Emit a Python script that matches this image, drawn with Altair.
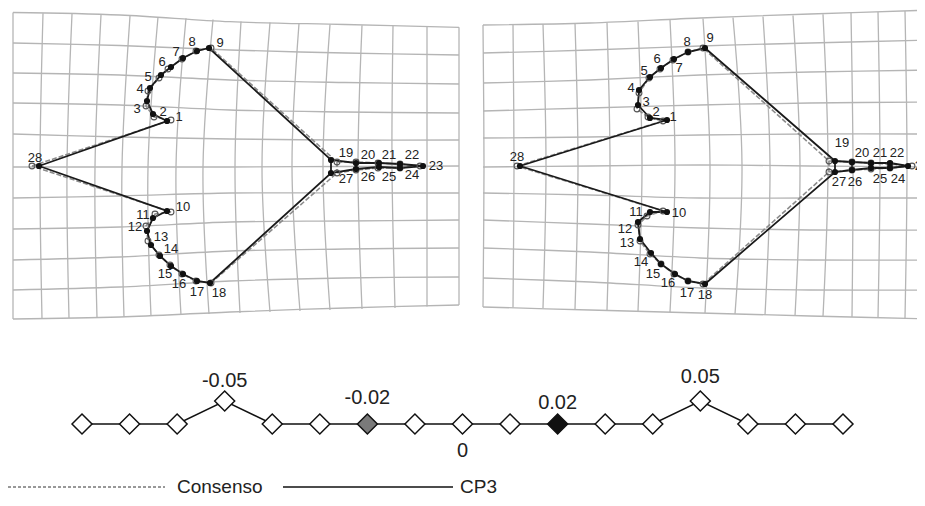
import altair as alt
import pandas as pd

# ---------------- deformation grids ----------------
# Left panel: horizontal lines sampled at these x positions
L_H_X = [13, 120, 230, 345, 459]
L_H_Y = [
    [12.5, 15, 21.7, 24.5, 27.3],
    [43, 45.5, 50, 53, 55],
    [73, 75, 80, 82.5, 84],
    [103, 105, 110, 112, 113],
    [134, 137, 139, 140, 140],
    [167, 167, 167, 166.5, 166],
    [198, 196, 193, 193, 193],
    [229, 227, 222, 221, 220],
    [260, 257, 251, 249, 248],
    [290, 287, 281, 278, 277],
    [319, 317, 312, 308, 305],
]
L_V_XTOP = [13, 43, 72, 101, 130, 158, 186, 213, 241, 270, 299, 330, 362, 393, 427, 459]
L_V_XMID = [13, 40, 67, 95, 122, 148, 176, 203, 235, 262, 292, 323, 358, 392, 427, 459]
L_V_XBOT = [13, 42, 69, 97, 124, 151, 181, 209, 240, 270, 300, 330, 362, 395, 427, 459]
L_V_YTOP = [12.5, 13.2, 14, 15, 16, 17, 18.3, 19.5, 21.5, 22.5, 23.5, 24.5, 25.3, 26, 26.7, 27.3]
L_V_YBOT = [319, 318.5, 318, 317.5, 317, 316, 315, 314, 313, 312, 311, 310, 309, 308, 306.5, 305]

# Right panel
R_H_X = [483, 590, 700, 810, 932]
R_H_Y = [
    [25, 23, 18, 14, 10],
    [53, 50, 46, 43, 40],
    [83, 80, 75, 72, 70],
    [111, 108, 105, 103, 102],
    [138, 137, 135, 134, 134],
    [167, 166, 165, 166, 167],
    [193, 195, 198, 198, 198],
    [220, 224, 228, 230, 230],
    [248, 252, 258, 260, 260],
    [278, 282, 288, 290, 290],
    [307, 310, 313, 316, 319],
]
R_V_XTOP = [483, 513, 543, 575, 607, 638, 670, 703, 733, 763, 793, 823, 851, 878, 905, 932]
R_V_XMID = [484, 514, 546, 578, 610, 642, 675, 710, 742, 770, 800, 828, 853, 880, 907, 933]
R_V_XBOT = [483, 513, 543, 575, 607, 638, 670, 705, 735, 765, 795, 823, 852, 878, 905, 932]
R_V_YTOP = [25, 24.5, 24, 23.3, 22.5, 21.5, 20, 18.5, 17.5, 16.5, 15.5, 14.3, 13, 12, 11, 10]
R_V_YBOT = [307, 307.5, 308, 309, 310, 311, 312, 313, 314, 315, 316, 316.5, 317, 317.5, 318, 319]

# ---------------- landmarks 1..28 ----------------
LM_IDS = list(range(1, 29))
L_CONS_X = [171, 154, 146, 148, 159, 168, 182, 196, 211, 171, 155, 146, 148, 159, 170, 182, 196, 211,
            337, 356, 378, 400, 420, 400, 378, 356, 337, 32]
L_CONS_Y = [120, 117, 106, 91, 78, 69, 59, 51, 48, 212, 214, 226, 241, 255, 265, 274, 281, 283,
            162, 162, 163, 164, 166, 168, 168, 170, 173, 166]
L_CP3_X = [167, 153, 147, 150, 161, 171, 183, 197, 209, 167, 153, 147, 151, 160, 171, 183, 197, 210,
           331, 356, 379, 400, 423, 400, 379, 356, 331, 39]
L_CP3_Y = [121, 114, 101, 88, 75, 67, 58, 51, 48, 211, 218, 231, 245, 256, 266, 274, 281, 283,
           160, 163, 163, 164, 166, 168, 167, 169, 173, 166]
R_CONS_X = [663, 648, 637, 639, 649, 660, 673, 688, 703, 663, 647, 638, 640, 650, 661, 674, 688, 703,
            829, 852, 871, 890, 912, 890, 871, 852, 829, 517]
R_CONS_Y = [121, 117, 109, 93, 78, 69, 60, 52, 48, 211, 216, 225, 241, 254, 264, 274, 281, 284,
            161, 162, 163, 164, 166, 168, 169, 170, 172, 166]
R_CP3_X = [667, 650, 638, 639, 650, 661, 674, 688, 705, 667, 650, 638, 640, 651, 661, 675, 688, 705,
           835, 852, 871, 890, 908, 890, 871, 852, 835, 520]
R_CP3_Y = [120, 118, 105, 90, 77, 68, 59, 52, 48, 212, 212, 222, 239, 253, 264, 274, 281, 284,
           161, 162, 163, 163, 166, 168, 168, 170, 172, 166]

OUTLINE = [28, 1, 2, 3, 4, 5, 6, 7, 8, 9, 19, 20, 21, 22, 23, 24, 25, 26, 27,
           18, 17, 16, 15, 14, 13, 12, 11, 10, 28]
EXTRA_LINKS = [(19, 27), (20, 26)]

# ---------------- shape-axis scale bar ----------------
SCALE_STEPS = [-0.08, -0.07, -0.06, -0.05, -0.04, -0.03, -0.02, -0.01, 0.0,
               0.01, 0.02, 0.03, 0.04, 0.05, 0.06, 0.07, 0.08]
SCALE_RAISED = [0, 0, 0, 1, 0, 0, 0, 0, 0, 0, 0, 0, 0, 1, 0, 0, 0]
SCALE_FILL = ["white"] * 6 + ["#7a7a7a"] + ["white"] * 3 + ["#111111"] + ["white"] * 6
SCALE_LABEL_AT = [-0.05, -0.02, 0.0, 0.02, 0.05]
SCALE_LABELS = ["-0.05", "-0.02", "0", "0.02", "0.05"]

LEGEND_LABELS = ["Consenso", "CP3"]

# ---------------- layout (positions / styles) ----------------
L_LAB_DX = [12, 10, -10, -10, -13, -9, -7, -5, 11, 16, -10, -12, 10, 11, -6, -4, 0, 9, 15, 12, 10, 12, 13, 12, 10, 12, 15, -4]
L_LAB_DY = [-4, -2, 8, 1, 2, -5, -6, -9, -5, -4, -3, -4, -8, -7, 8, 10, 11, 10, -7, -8, -8, -9, 0, 7, 10, 8, 6, -8]
R_LAB_DX = [6, 6, 8, -8, -6, -4, 5, -1, 5, 12, -14, -13, -13, -10, -8, -7, -1, 0, 7, 10, 9, 7, 14, 8, 9, 3, 4, -3]
R_LAB_DY = [-3, -6, -3, -2, -6, -9, 9, -10, -10, 1, 0, 7, 4, 9, 10, 9, 12, 11, -18, -9, -10, -10, 0, 11, 11, 12, 10, -9]
BAR_Y = 424
BAR_RAISE = 23
BAR_RANGE = [74, 835]
VAL_LABEL_DY = [-20, -26, 27, -21, -24]
LEG_Y = 487
FONT = "Liberation Sans"

# ---------------- build tables ----------------
grid_rows = []
for p, hx, hy, vxt, vxm, vxb, vyt, vyb in [
    ("L", L_H_X, L_H_Y, L_V_XTOP, L_V_XMID, L_V_XBOT, L_V_YTOP, L_V_YBOT),
    ("R", R_H_X, R_H_Y, R_V_XTOP, R_V_XMID, R_V_XBOT, R_V_YTOP, R_V_YBOT),
]:
    for i, row in enumerate(hy):
        for j, (x, y) in enumerate(zip(hx, row)):
            grid_rows.append({"line": f"{p}h{i}", "ord": j, "x": x, "y": y})
    ymid = hy[5][2]
    for k in range(len(vxt)):
        for j, (x, y) in enumerate([(vxt[k], vyt[k]), (vxm[k], ymid), (vxb[k], vyb[k])]):
            grid_rows.append({"line": f"{p}v{k}", "ord": j, "x": x, "y": y})
grid_df = pd.DataFrame(grid_rows)

pts_rows, path_rows, lab_rows = [], [], []
for p, cx, cy, tx, ty, dx, dy in [
    ("L", L_CONS_X, L_CONS_Y, L_CP3_X, L_CP3_Y, L_LAB_DX, L_LAB_DY),
    ("R", R_CONS_X, R_CONS_Y, R_CP3_X, R_CP3_Y, R_LAB_DX, R_LAB_DY),
]:
    for kind, xs, ys in [("cons", cx, cy), ("cp3", tx, ty)]:
        pos = {lm: (xs[i], ys[i]) for i, lm in enumerate(LM_IDS)}
        for i, lm in enumerate(LM_IDS):
            pts_rows.append({"panel": p, "kind": kind, "lm": lm, "x": xs[i], "y": ys[i]})
        for j, lm in enumerate(OUTLINE):
            path_rows.append({"seg": f"{p}{kind}main", "kind": kind, "ord": j,
                              "x": pos[lm][0], "y": pos[lm][1]})
        for a, b in EXTRA_LINKS:
            for j, lm in enumerate((a, b)):
                path_rows.append({"seg": f"{p}{kind}{a}-{b}", "kind": kind, "ord": j,
                                  "x": pos[lm][0], "y": pos[lm][1]})
    for i, lm in enumerate(LM_IDS):
        lab_rows.append({"t": str(lm), "x": tx[i] + dx[i], "y": ty[i] + dy[i]})
pts_df = pd.DataFrame(pts_rows)
path_df = pd.DataFrame(path_rows)
lab_df = pd.DataFrame(lab_rows)

bar_df = pd.DataFrame({
    "v": SCALE_STEPS,
    "y": [BAR_Y - BAR_RAISE * r for r in SCALE_RAISED],
    "fill": SCALE_FILL,
})
val_df = pd.DataFrame({
    "v": SCALE_LABEL_AT,
    "t": SCALE_LABELS,
    "y": [BAR_Y - BAR_RAISE * SCALE_RAISED[SCALE_STEPS.index(v)] + d
          for v, d in zip(SCALE_LABEL_AT, VAL_LABEL_DY)],
})
leg_lines = pd.DataFrame({"x": [8, 283], "x2": [165, 453], "y": [LEG_Y, LEG_Y],
                          "kind": ["cons", "cp3"]})
leg_text = pd.DataFrame({"x": [177, 460], "y": [LEG_Y, LEG_Y], "t": LEGEND_LABELS})

# ---------------- scales ----------------
PX = alt.Scale(domain=[8, 917], nice=False, zero=False)
PY = alt.Scale(domain=[8, 498], nice=False, zero=False, reverse=True)
VX = alt.Scale(domain=[-0.08, 0.08], range=BAR_RANGE, nice=False, zero=False)


def X():
    return alt.X("x:Q", scale=PX, axis=None)


def Y():
    return alt.Y("y:Q", scale=PY, axis=None)


grid = alt.Chart(grid_df).mark_line(
    color="#b5b5b5", strokeWidth=1.3, interpolate="catmull-rom"
).encode(x=X(), y=Y(), detail="line:N", order="ord:Q")

cons_line = alt.Chart(path_df[path_df.kind == "cons"]).mark_line(
    color="#8c8c8c", strokeWidth=1.6, strokeDash=[5, 2]
).encode(x=X(), y=Y(), detail="seg:N", order="ord:Q")

cp3_line = alt.Chart(path_df[path_df.kind == "cp3"]).mark_line(
    color="#1a1a1a", strokeWidth=1.8
).encode(x=X(), y=Y(), detail="seg:N", order="ord:Q")

cons_pts = alt.Chart(pts_df[pts_df.kind == "cons"]).mark_point(
    shape="circle", filled=False, size=34, stroke="#555555", strokeWidth=1.1, opacity=1
).encode(x=X(), y=Y())

cp3_pts = alt.Chart(pts_df[pts_df.kind == "cp3"]).mark_circle(
    size=38, color="#111111", opacity=1
).encode(x=X(), y=Y())

labels = alt.Chart(lab_df).mark_text(
    font=FONT, fontSize=13, color="#222222", align="center", baseline="middle"
).encode(x=X(), y=Y(), text="t:N")

bar_line = alt.Chart(bar_df).mark_line(color="#111111", strokeWidth=1.5).encode(
    x=alt.X("v:Q", scale=VX, axis=None), y=Y(), order="v:Q")

bar_pts = alt.Chart(bar_df).mark_point(
    shape="diamond", filled=True, size=400, stroke="#111111", strokeWidth=1.5, opacity=1
).encode(x=alt.X("v:Q", scale=VX, axis=None), y=Y(),
         fill=alt.Fill("fill:N", scale=None))

val_text = alt.Chart(val_df).mark_text(
    font=FONT, fontSize=20, color="#222222", align="center", baseline="middle"
).encode(x=alt.X("v:Q", scale=VX, axis=None), y=Y(), text="t:N")

leg_cons = alt.Chart(leg_lines[leg_lines.kind == "cons"]).mark_rule(
    color="#333333", strokeWidth=1, strokeDash=[3, 2]
).encode(x=X(), x2="x2:Q", y=Y())
leg_cp3 = alt.Chart(leg_lines[leg_lines.kind == "cp3"]).mark_rule(
    color="#111111", strokeWidth=1.3
).encode(x=X(), x2="x2:Q", y=Y())
leg_txt = alt.Chart(leg_text).mark_text(
    font=FONT, fontSize=19, color="#222222", align="left", baseline="middle"
).encode(x=X(), y=Y(), text="t:N")

chart = alt.layer(
    grid, cons_line, cp3_line, cons_pts, cp3_pts, labels,
    bar_line, bar_pts, val_text, leg_cons, leg_cp3, leg_txt
).resolve_scale(x="independent").properties(
    width=909, height=490, padding=0,
    autosize=alt.AutoSizeParams(type="none"),
    background="white",
).configure_view(stroke=None)

chart.save("out.html", embed_options={"renderer": "svg", "actions": False})
